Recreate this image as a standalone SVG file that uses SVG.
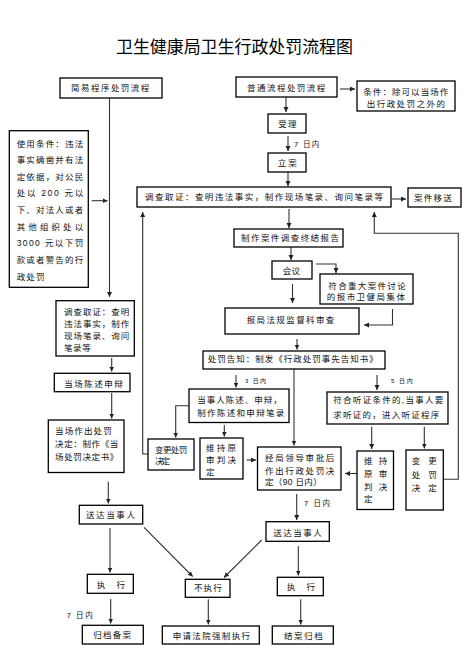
<svg xmlns="http://www.w3.org/2000/svg" width="467" height="663" viewBox="0 0 467 663">
<defs>
<style>
.b{fill:#fff;stroke:#000;stroke-width:1.3}
.t{font-family:"Liberation Sans","Noto Sans CJK SC",sans-serif;font-size:8.5px;fill:#111}
.s{font-family:"Liberation Sans","Noto Sans CJK SC",sans-serif;font-size:7.5px;fill:#111}
.xs{font-family:"Liberation Sans","Noto Sans CJK SC",sans-serif;font-size:6px;fill:#111}
.title{font-family:"Liberation Sans","Noto Sans CJK SC",sans-serif;font-size:17px;fill:#000}
.c{fill:none;stroke:#333;stroke-width:1.1}
.a{marker-end:url(#ah)}
</style>
<marker id="ah" markerUnits="userSpaceOnUse" markerWidth="6" markerHeight="6" refX="5" refY="2.5" orient="auto">
<path d="M0,0 L5,2.5 L0,5 z" fill="#222"/>
</marker>
</defs>
<rect width="467" height="663" fill="#fff"/>
<text class="title" x="116" y="52.5" textLength="237" lengthAdjust="spacing">卫生健康局卫生行政处罚流程图</text>

<g id="connectors">
<path class="c a" d="M340,89 H355"/>
<path class="c a" d="M286,97 V112"/>
<path class="c a" d="M288,136 V151"/>
<path class="c a" d="M288,172 V186"/>
<path class="c a" d="M392,199 H406"/>
<path class="c a" d="M289,209 V228"/>
<path class="c a" d="M291,247 V260"/>
<path class="c a" d="M316,264 H336 V273"/>
<path class="c a" d="M292.5,284 V303"/>
<path class="c a" d="M392.5,309 V325 H364"/>
<path class="c a" d="M297,339 V349.5"/>
<path class="c a" d="M236,375 V387.5"/>
<path class="c a" d="M294,369 V445.5"/>
<path class="c a" d="M377,375 V390"/>
<path class="c a" d="M189,405.7 H175.7 V437.5"/>
<path class="c a" d="M224.3,425 V436.5"/>
<path class="c a" d="M246.7,460 H256"/>
<path class="c a" d="M148,454 H142.7 V212"/>
<path class="c a" d="M371.7,426.7 V449"/>
<path class="c a" d="M424.3,426.7 V448.5"/>
<path class="c a" d="M358,473.5 H345"/>
<path class="c a" d="M443.3,479.3 H458.3 V233.3 H374.3 V212"/>
<path class="c a" d="M109.5,98 V297"/>
<path class="c a" d="M91.7,200.7 H107.5"/>
<path class="c a" d="M111.7,358 V371.5"/>
<path class="c a" d="M111.7,393 V418.5"/>
<path class="c a" d="M108.3,481.7 V503.5"/>
<path class="c a" d="M110,528 V572.5"/>
<path class="c a" d="M110.7,599 V623.5"/>
<path class="c a" d="M144,527.3 L192.7,576.5"/>
<path class="c a" d="M261.7,540 L224,577.5"/>
<path class="c a" d="M208.3,599.3 V624.5"/>
<path class="c a" d="M296.7,494 V520"/>
<path class="c a" d="M298.3,546 V575.5"/>
<path class="c a" d="M300.7,599.3 V624.5"/>
<text class="s" x="294" y="147.3" textLength="25.3" lengthAdjust="spacing">7 日内</text>
<text class="xs" x="245" y="382.5" textLength="21" lengthAdjust="spacing">3 日内</text>
<text class="xs" x="391" y="382.5" textLength="21.7" lengthAdjust="spacing">5 日内</text>
<text class="s" x="66.7" y="618" textLength="26" lengthAdjust="spacing">7 日内</text>
<text class="s" x="304" y="505.7" textLength="26" lengthAdjust="spacing">7 日内</text>
</g>

<g id="n-simple">
<rect class="b" x="60" y="78" width="102" height="20"/>
<text class="t" x="71" y="90.7" textLength="78.3" lengthAdjust="spacing">简易程序处罚流程</text>
</g>
<g id="n-normal">
<rect class="b" x="236" y="77" width="101" height="20"/>
<text class="t" x="247" y="90.7" textLength="78.3" lengthAdjust="spacing">普通流程处罚流程</text>
</g>
<g id="n-cond-right">
<rect class="b" x="357" y="81" width="98" height="30"/>
<text class="t" x="363.3" y="95.3" textLength="85" lengthAdjust="spacing">条件：除可以当场作</text>
<text class="t" x="366.7" y="107" textLength="78.3" lengthAdjust="spacing">出行政处罚之外的</text>
</g>
<g id="n-accept">
<rect class="b" x="268" y="114" width="38" height="19"/>
<text class="t" x="278.3" y="127.3" textLength="18.3" lengthAdjust="spacing">受理</text>
</g>
<g id="n-file">
<rect class="b" x="268" y="153" width="38" height="19"/>
<text class="t" x="277.7" y="166.3" textLength="19" lengthAdjust="spacing">立案</text>
</g>
<g id="n-investigate">
<rect class="b" x="137" y="187" width="254" height="20"/>
<text class="t" x="145" y="199.7" textLength="238" lengthAdjust="spacing">调查取证：查明违法事实，制作现场笔录、询问笔录等</text>
</g>
<g id="n-transfer">
<rect class="b" x="408" y="188" width="53" height="19"/>
<text class="t" x="414" y="200.7" textLength="37.7" lengthAdjust="spacing">案件移送</text>
</g>
<g id="n-report">
<rect class="b" x="234" y="229" width="109" height="18"/>
<text class="t" x="241" y="241.3" textLength="98" lengthAdjust="spacing">制作案件调查终结报告</text>
</g>
<g id="n-meeting">
<rect class="b" x="272" y="261" width="40" height="18"/>
<text class="t" x="282.7" y="273.7" textLength="17.3" lengthAdjust="spacing">会议</text>
</g>
<g id="n-major">
<rect class="b" x="320" y="274" width="93" height="30"/>
<text class="t" x="328.3" y="289" textLength="77.4" lengthAdjust="spacing">符合重大案件讨论</text>
<text class="t" x="326.7" y="300.3" textLength="78.3" lengthAdjust="spacing">的报市卫健局集体</text>
</g>
<g id="n-review">
<rect class="b" x="225" y="308" width="134" height="26"/>
<text class="t" x="246.7" y="323" textLength="87.6" lengthAdjust="spacing">报局法规监督科审查</text>
</g>
<g id="n-notice">
<rect class="b" x="203" y="351" width="182" height="18"/>
<text class="t" x="207.7" y="362.3" textLength="170" lengthAdjust="spacing">处罚告知：制发《行政处罚事先告知书》</text>
</g>
<g id="n-statement">
<rect class="b" x="189" y="389" width="100" height="33.5"/>
<text class="t" x="197.3" y="403" textLength="84.4" lengthAdjust="spacing">当事人陈述、申辩，</text>
<text class="t" x="197.3" y="415.7" textLength="87" lengthAdjust="spacing">制作陈述和申辩笔录</text>
</g>
<g id="n-hearing">
<rect class="b" x="327" y="392" width="121" height="32"/>
<text class="t" x="333.3" y="403" textLength="110" lengthAdjust="spacing">符合听证条件的,当事人要</text>
<text class="t" x="333.3" y="418" textLength="106" lengthAdjust="spacing">求听证的，进入听证程序</text>
</g>
<g id="n-change-left">
<rect class="b" x="148" y="439" width="46" height="31"/>
<text class="t" x="155" y="453" textLength="32.3" lengthAdjust="spacing">变更处罚</text>
<text class="t" x="155" y="464" textLength="15" lengthAdjust="spacing">决定</text>
</g>
<g id="n-keep-left">
<rect class="b" x="200" y="438" width="43" height="41"/>
<text class="t" x="206" y="451.3" textLength="30" lengthAdjust="spacing">维持原</text>
<text class="t" x="206" y="463" textLength="30" lengthAdjust="spacing">审判决</text>
<text class="t" x="206" y="474.7">定</text>
</g>
<g id="n-decision">
<rect class="b" x="257.5" y="447" width="83.5" height="43"/>
<text class="t" x="265" y="460.7" textLength="69.3" lengthAdjust="spacing">经局领导审批后</text>
<text class="t" x="265" y="473.7" textLength="69.3" lengthAdjust="spacing">作出行政处罚决</text>
<text class="t" x="265" y="485.3" textLength="56.7" lengthAdjust="spacing">定（90 日内）</text>
</g>
<g id="n-keep-right">
<rect class="b" x="357" y="451" width="36.5" height="58.5"/>
<text class="t" x="364" y="464" textLength="23.3" lengthAdjust="spacing">维持</text>
<text class="t" x="364" y="477" textLength="23.3" lengthAdjust="spacing">原审</text>
<text class="t" x="364" y="489.7" textLength="23.3" lengthAdjust="spacing">判决</text>
<text class="t" x="364" y="502">定</text>
</g>
<g id="n-change-right">
<rect class="b" x="406" y="450" width="37.3" height="60"/>
<text class="t" x="411.7" y="464" textLength="25" lengthAdjust="spacing">变更</text>
<text class="t" x="411.7" y="478" textLength="25" lengthAdjust="spacing">处罚</text>
<text class="t" x="411.7" y="491.3" textLength="25" lengthAdjust="spacing">决定</text>
</g>
<g id="n-cond-left">
<rect class="b" x="9.3" y="130.7" width="79" height="156.6"/>
<text class="t" x="16.7" y="147" textLength="66.5" lengthAdjust="spacing">使用条件：违法</text>
<text class="t" x="16.7" y="163" textLength="66.5" lengthAdjust="spacing">事实确凿并有法</text>
<text class="t" x="16.7" y="180.3" textLength="66.5" lengthAdjust="spacing">定依据，对公民</text>
<text class="t" x="16.7" y="196.3" textLength="66.5" lengthAdjust="spacing">处以 200 元以</text>
<text class="t" x="16.7" y="213" textLength="66.5" lengthAdjust="spacing">下、对法人或者</text>
<text class="t" x="16.7" y="230.3" textLength="66.5" lengthAdjust="spacing">其他组织处以</text>
<text class="t" x="16.7" y="246.3" textLength="66.5" lengthAdjust="spacing">3000 元以下罚</text>
<text class="t" x="16.7" y="263" textLength="66.5" lengthAdjust="spacing">款或者警告的行</text>
<text class="t" x="16.7" y="279.7" textLength="27.7" lengthAdjust="spacing">政处罚</text>
</g>
<g id="n-investigate-left">
<rect class="b" x="56" y="300.7" width="78.3" height="55.3"/>
<text class="t" x="64" y="314.7" textLength="65.3" lengthAdjust="spacing">调查取证：查明</text>
<text class="t" x="64" y="327" textLength="65.3" lengthAdjust="spacing">违法事实，制作</text>
<text class="t" x="64" y="339" textLength="65.3" lengthAdjust="spacing">现场笔录、询问</text>
<text class="t" x="64" y="351.3" textLength="26.7" lengthAdjust="spacing">笔录等</text>
</g>
<g id="n-onsite-statement">
<rect class="b" x="54.3" y="373.3" width="75.7" height="18.4"/>
<text class="t" x="64.3" y="387" textLength="58.4" lengthAdjust="spacing">当场陈述申辩</text>
</g>
<g id="n-onsite-decision">
<rect class="b" x="48.3" y="420" width="75.7" height="52.5"/>
<text class="t" x="55" y="434" textLength="56.7" lengthAdjust="spacing">当场作出处罚</text>
<text class="t" x="55" y="447.3" textLength="63.3" lengthAdjust="spacing">决定：制作《当</text>
<text class="t" x="55" y="459.7" textLength="63.3" lengthAdjust="spacing">场处罚决定书》</text>
</g>
<g id="n-deliver-left">
<rect class="b" x="79.3" y="505.3" width="63.4" height="18.7"/>
<text class="t" x="86" y="518.3" textLength="49" lengthAdjust="spacing">送达当事人</text>
</g>
<g id="n-deliver-right">
<rect class="b" x="266" y="521.7" width="63.3" height="19.6"/>
<text class="t" x="273.3" y="535.7" textLength="48.4" lengthAdjust="spacing">送达当事人</text>
</g>
<g id="n-exec-left">
<rect class="b" x="87.3" y="574.3" width="46" height="19"/>
<text class="t" x="96.7" y="587.7" textLength="28.3" lengthAdjust="spacing">执　行</text>
</g>
<g id="n-noexec">
<rect class="b" x="185.3" y="579.3" width="44.7" height="18"/>
<text class="t" x="194" y="591.3" textLength="27.7" lengthAdjust="spacing">不执行</text>
</g>
<g id="n-exec-right">
<rect class="b" x="277.3" y="577.3" width="46" height="18.4"/>
<text class="t" x="286.7" y="589.7" textLength="28.3" lengthAdjust="spacing">执　行</text>
</g>
<g id="n-archive-left">
<rect class="b" x="82.3" y="625.3" width="61" height="18.7"/>
<text class="t" x="93.3" y="638.3" textLength="37.7" lengthAdjust="spacing">归档备案</text>
</g>
<g id="n-court">
<rect class="b" x="162.3" y="626" width="97" height="18"/>
<text class="t" x="172.7" y="638.7" textLength="77.3" lengthAdjust="spacing">申请法院强制执行</text>
</g>
<g id="n-close">
<rect class="b" x="272.3" y="626" width="61" height="18"/>
<text class="t" x="284" y="638.7" textLength="38.7" lengthAdjust="spacing">结案归档</text>
</g>
</svg>
